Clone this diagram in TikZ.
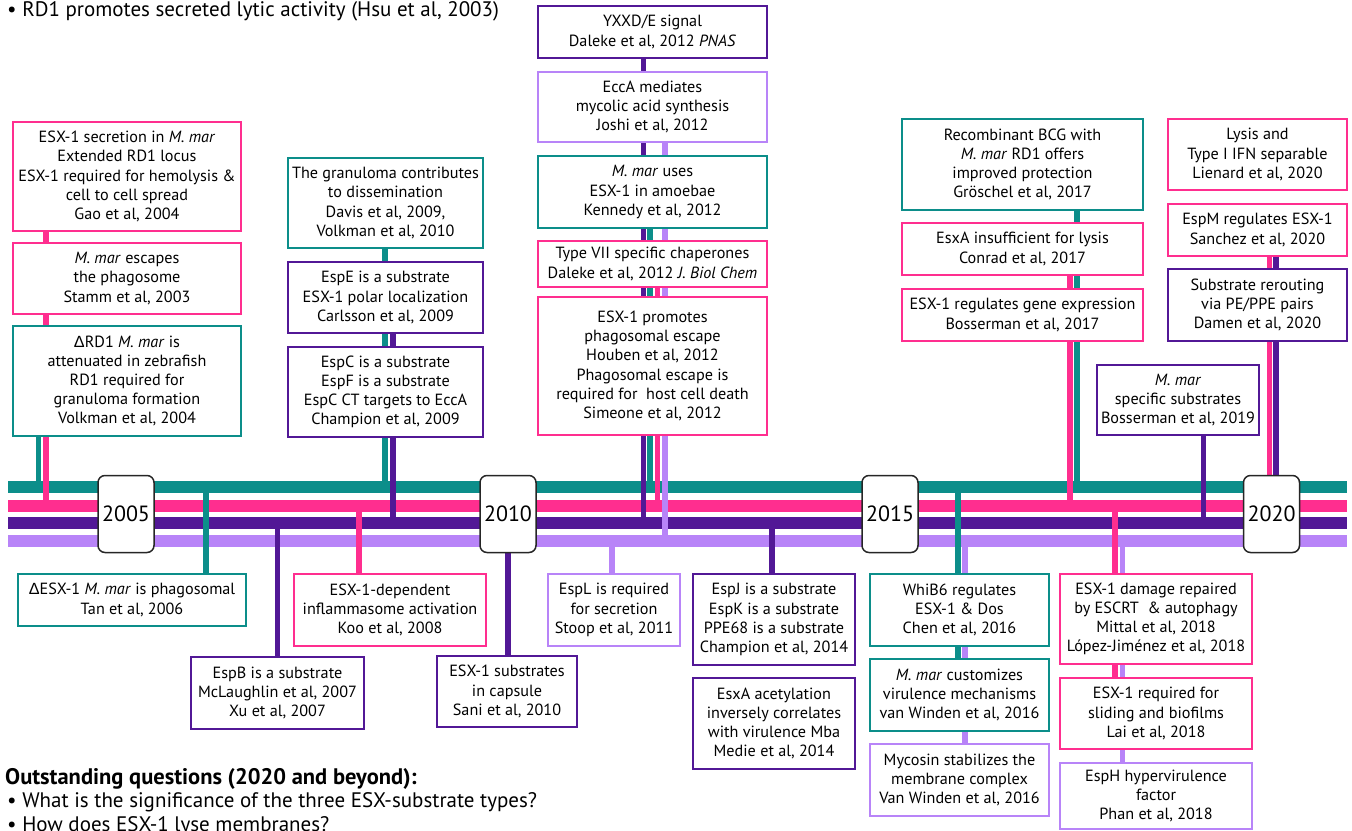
\documentclass[tikz,border=0pt]{standalone}
\usepackage{fontspec}
\usetikzlibrary{backgrounds}
\setmainfont{PT Sans}
\newfontfamily\deltafont{Liberation Sans}
\newcommand\Dlt{{\deltafont Δ}}
\definecolor{cteal}{RGB}{12,142,138}
\definecolor{cpink}{RGB}{255,46,143}
\definecolor{cpurp}{RGB}{82,24,150}
\definecolor{clav}{RGB}{184,132,248}
\tikzset{
  evbox/.style={draw, line width=2.3pt, fill=white, inner sep=0pt, align=center,
    font=\fontsize{16.2}{19.2}\selectfont},
  tealbox/.style={evbox, draw=cteal},
  pinkbox/.style={evbox, draw=cpink},
  purpbox/.style={evbox, draw=cpurp},
  lavbox/.style={evbox, draw=clav},
  bar/.style={line width=12pt},
  conn/.style={line width=5.5pt},
  yearbox/.style={draw=black!85, line width=1.5pt, fill=white, rounded corners=7pt,
    minimum width=56pt, minimum height=77pt, inner sep=0pt, font=\fontsize{22}{24}\selectfont},
  note/.style={anchor=base west, inner sep=0pt, font=\fontsize{21}{23}\selectfont}
}
\begin{document}
\begin{tikzpicture}[x=1pt,y=-1pt]
\useasboundingbox (0,0) rectangle (1352,830);

% top boxes
\node[pinkbox, minimum width=228pt, minimum height=109pt] (gao) at (127,176.5)
  {ESX-1 secretion in \textit{M. mar}\\Extended RD1 locus\\ESX-1 required for hemolysis \&\\cell to cell spread\\Gao et al, 2004};
\node[pinkbox, minimum width=228pt, minimum height=71pt] (stamm) at (127,278.5)
  {\textit{M. mar} escapes\\the phagosome\\Stamm et al, 2003};
\node[tealbox, minimum width=228pt, minimum height=110pt] (volk) at (127,381)
  {\Dlt RD1 \textit{M. mar} is\\attenuated in zebrafish\\RD1 required for\\granuloma formation\\Volkman et al, 2004};
\node[tealbox, minimum width=195pt, minimum height=90pt] (davis) at (385.5,203)
  {The granuloma contributes\\to dissemination\\Davis et al, 2009,\\Volkman et al, 2010};
\node[purpbox, minimum width=195pt, minimum height=71pt] (carls) at (385.5,297.5)
  {EspE is a substrate\\ESX-1 polar localization\\Carlsson et al, 2009};
\node[purpbox, minimum width=195pt, minimum height=90pt] (champA) at (385.5,392)
  {EspC is a substrate\\EspF is a substrate\\EspC CT targets to EccA\\Champion et al, 2009};
\node[purpbox, minimum width=229pt, minimum height=52pt] (yxxd) at (652.5,32)
  {YXXD/E signal\\Daleke et al, 2012 \textit{PNAS}};
\node[lavbox, minimum width=229pt, minimum height=70pt] (joshi) at (652.5,107)
  {EccA mediates\\mycolic acid synthesis\\Joshi et al, 2012};
\node[tealbox, minimum width=229pt, minimum height=72pt] (kenn) at (652.5,192)
  {\textit{M. mar} uses\\ESX-1 in amoebae\\Kennedy et al, 2012};
\node[pinkbox, minimum width=229pt, minimum height=46pt] (chap) at (652.5,264)
  {Type VII specific chaperones\\Daleke et al, 2012 \textit{J. Biol Chem}};
\node[pinkbox, minimum width=229pt, minimum height=138pt] (houb) at (652.5,366)
  {ESX-1 promotes\\phagosomal escape\\Houben et al, 2012\\Phagosomal escape is\\required for\ \ host cell death\\Simeone et al, 2012};
\node[tealbox, minimum width=241pt, minimum height=91pt] (gros) at (1022.5,164.5)
  {Recombinant BCG with\\\textit{M. mar} RD1 offers\\improved protection\\Gröschel et al, 2017};
\node[pinkbox, minimum width=241pt, minimum height=52pt] (conr) at (1022.5,249)
  {EsxA insufficient for lysis\\Conrad et al, 2017};
\node[pinkbox, minimum width=241pt, minimum height=52pt] (bossA) at (1022.5,315)
  {ESX-1 regulates gene expression\\Bosserman et al, 2017};
\node[pinkbox, minimum width=179pt, minimum height=71pt] (lien) at (1257.5,154.5)
  {Lysis and\\Type I IFN separable\\Lienard et al, 2020};
\node[pinkbox, minimum width=179pt, minimum height=52pt] (sanc) at (1257.5,230)
  {EspM regulates ESX-1\\Sanchez et al, 2020};
\node[purpbox, minimum width=179pt, minimum height=72pt] (dame) at (1257.5,305)
  {Substrate rerouting\\via PE/PPE pairs\\Damen et al, 2020};
\node[purpbox, minimum width=162pt, minimum height=70pt] (bossB) at (1178,400)
  {\textit{M. mar}\\specific substrates\\Bosserman et al, 2019};

% bottom boxes
\node[tealbox, minimum width=228pt, minimum height=52pt] (tan) at (132,600)
  {\Dlt ESX-1 \textit{M. mar} is phagosomal\\Tan et al, 2006};
\node[purpbox, minimum width=173pt, minimum height=72pt] (mcl) at (277.5,693)
  {EspB is a substrate\\McLaughlin et al, 2007\\Xu et al, 2007};
\node[pinkbox, minimum width=192pt, minimum height=72pt] (koo) at (390,610)
  {ESX-1-dependent\\inflammasome activation\\Koo et al, 2008};
\node[purpbox, minimum width=140pt, minimum height=71pt] (sani) at (507,691.5)
  {ESX-1 substrates\\in capsule\\Sani et al, 2010};
\node[lavbox, minimum width=132pt, minimum height=72pt] (stoop) at (614,610)
  {EspL is required\\for secretion\\Stoop et al, 2011};
\node[purpbox, minimum width=162pt, minimum height=91pt] (champB) at (774,619.5)
  {EspJ is a substrate\\EspK is a substrate\\PPE68 is a substrate\\Champion et al, 2014};
\node[purpbox, minimum width=162pt, minimum height=91pt] (mba) at (774,723.5)
  {EsxA acetylation\\inversely correlates\\with virulence Mba\\Medie et al, 2014};
\node[tealbox, minimum width=179pt, minimum height=72pt] (chen) at (959.5,610)
  {WhiB6 regulates\\ESX-1 \& Dos\\Chen et al, 2016};
\node[tealbox, minimum width=179pt, minimum height=72pt] (vwin) at (959.5,695)
  {\textit{M. mar} customizes\\virulence mechanisms\\van Winden et al, 2016};
\node[lavbox, minimum width=179pt, minimum height=72pt] (myco) at (959.5,780)
  {Mycosin stabilizes the\\membrane complex\\Van Winden et al, 2016};
\node[pinkbox, minimum width=192pt, minimum height=90pt] (mitt) at (1156,619)
  {ESX-1 damage repaired\\by ESCRT\ \ \& autophagy\\Mittal et al, 2018\\López-Jiménez et al, 2018};
\node[pinkbox, minimum width=192pt, minimum height=71pt] (lai) at (1156,713.5)
  {ESX-1 required for\\sliding and biofilms\\Lai et al, 2018};
\node[lavbox, minimum width=192pt, minimum height=66pt] (phan) at (1156,796)
  {EspH hypervirulence\\factor\\Phan et al, 2018};

% year boxes
\node[yearbox] (y2005) at (126,514) {2005};
\node[yearbox] (y2010) at (508,514) {2010};
\node[yearbox] (y2015) at (890,514) {2015};
\node[yearbox] (y2020) at (1271.5,514) {2020};

% bar ends
\coordinate (tL) at (8,487);   \coordinate (tR) at (1347,487);
\coordinate (pL) at (8,505.5); \coordinate (pR) at (1347,505.5);
\coordinate (uL) at (8,523);   \coordinate (uR) at (1347,523);
\coordinate (lL) at (8,541);   \coordinate (lR) at (1347,541);

% connector points on bars
\coordinate (c1) at (46,505.5);
\coordinate (c2) at (38.5,487);
\coordinate (c3) at (385,487);
\coordinate (c4) at (393,523);
\coordinate (c5) at (643.5,523);
\coordinate (c6) at (665,541);
\coordinate (c7) at (650,487);
\coordinate (c8) at (657.5,505.5);
\coordinate (c9) at (1077,487);
\coordinate (c10) at (1070,505.5);
\coordinate (c11) at (1269.5,505.5);
\coordinate (c12) at (1276,523);
\coordinate (c13) at (1203.5,523);
\coordinate (d1) at (206,487);
\coordinate (d2) at (277.5,523);
\coordinate (d3) at (359,505.5);
\coordinate (d4) at (508,523);
\coordinate (d5) at (612,541);
\coordinate (d6) at (772,523);
\coordinate (d7) at (958,487);
\coordinate (d8) at (965,541);
\coordinate (d9) at (1115,505.5);
\coordinate (d10) at (1122.5,541);

\begin{scope}[on background layer]
\draw[bar,cteal] (tL) -- (tR);
\draw[bar,cpink] (pL) -- (pR);
\draw[bar,cpurp] (uL) -- (uR);
\draw[bar,clav] (lL) -- (lR);
\draw[conn,cpink] (c1 |- gao.south) -- (c1);
\draw[conn,cteal] (c2 |- volk.south) -- (c2);
\draw[conn,cteal] (c3 |- davis.south) -- (c3);
\draw[conn,cpurp] (c4 |- carls.south) -- (c4);
\draw[conn,cpurp] (c5 |- yxxd.south) -- (c5);
\draw[conn,clav] (c6 |- joshi.south) -- (c6);
\draw[conn,cteal] (c7 |- kenn.south) -- (c7);
\draw[conn,cpink] (c8 |- chap.south) -- (c8);
\draw[conn,cteal] (c9 |- gros.south) -- (c9);
\draw[conn,cpink] (c10 |- conr.south) -- (c10);
\draw[conn,cpink] (c11 |- sanc.south) -- (c11);
\draw[conn,cpurp] (c12 |- sanc.south) -- (c12);
\draw[conn,cpurp] (c13 |- bossB.south) -- (c13);
\draw[conn,cteal] (d1) -- (d1 |- tan.north);
\draw[conn,cpurp] (d2) -- (d2 |- mcl.north);
\draw[conn,cpink] (d3) -- (d3 |- koo.north);
\draw[conn,cpurp] (d4) -- (d4 |- sani.north);
\draw[conn,clav] (d5) -- (d5 |- stoop.north);
\draw[conn,cpurp] (d6) -- (d6 |- champB.north);
\draw[conn,cteal] (d7) -- (d7 |- vwin.north);
\draw[conn,clav] (d8) -- (d8 |- myco.north);
\draw[conn,cpink] (d9) -- (d9 |- lai.north);
\draw[conn,clav] (d10) -- (d10 |- phan.north);
\end{scope}

% notes
\node[note] (hsu) at (7,16) {• RD1 promotes secreted lytic activity (Hsu et al, 2003)};
\node[note, font=\fontsize{22.5}{24}\selectfont\bfseries] (oq) at (5,784) {Outstanding questions (2020 and beyond):};
\node[note] (q1) at (7,807) {• What is the significance of the three ESX-substrate types?};
\node[note] (q2) at (7,831) {• How does ESX-1 lyse membranes?};
\end{tikzpicture}
\end{document}
